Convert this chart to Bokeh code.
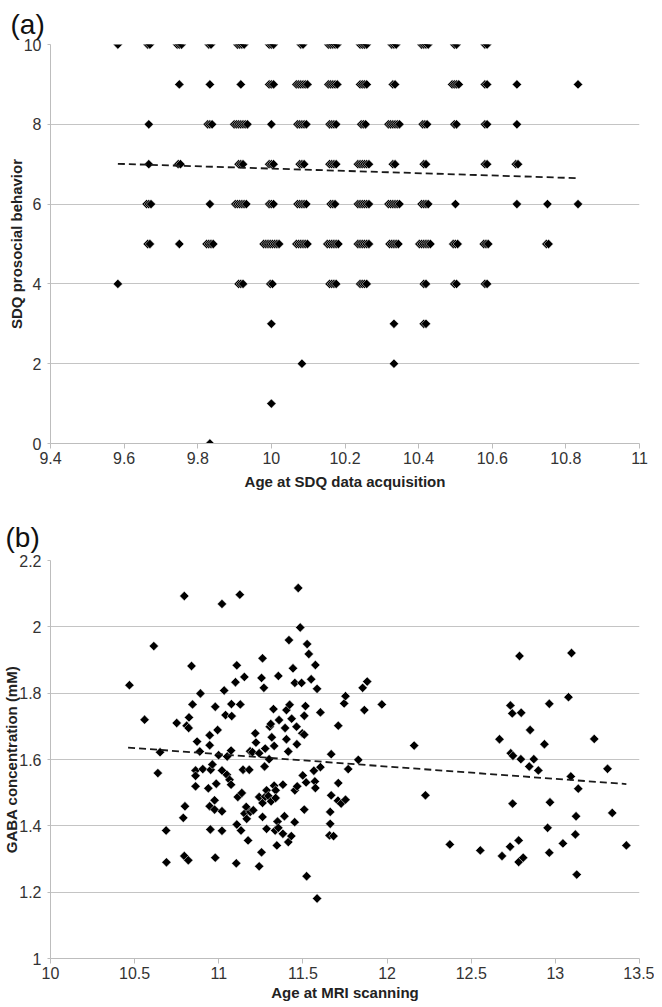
import numpy as np
from bokeh.plotting import figure
from bokeh.layouts import column
from bokeh.models import FixedTicker, NumeralTickFormatter
from bokeh.embed import file_html
from bokeh.resources import INLINE

# (a) SDQ prosocial behavior vs age: ages, one list per score
age_sdq_10 = [9.583, 9.664, 9.670, 9.744, 9.750, 9.756, 9.830, 9.836, 9.908, 9.914, 9.920, 9.926,
              9.994, 10.000, 10.006, 10.080, 10.086, 10.155, 10.161, 10.167, 10.173, 10.179,
              10.241, 10.247, 10.253, 10.259, 10.327, 10.333, 10.339, 10.408, 10.414, 10.420, 10.426,
              10.497, 10.503, 10.580, 10.586]
age_sdq_9 = [9.750, 9.833, 9.917, 9.994, 10.000, 10.006, 10.068, 10.074, 10.080, 10.086, 10.092, 10.098,
             10.155, 10.161, 10.167, 10.173, 10.179, 10.241, 10.247, 10.253, 10.259, 10.330, 10.336,
             10.491, 10.497, 10.503, 10.509, 10.580, 10.586, 10.667, 10.833]
age_sdq_8 = [9.667, 9.827, 9.833, 9.839, 9.899, 9.905, 9.911, 9.917, 9.923, 9.929, 9.935, 10.000,
             10.071, 10.077, 10.083, 10.089, 10.095, 10.158, 10.164, 10.170, 10.176, 10.244, 10.250, 10.256,
             10.318, 10.324, 10.330, 10.336, 10.342, 10.348, 10.411, 10.417, 10.423, 10.497, 10.503,
             10.580, 10.586, 10.667]
age_sdq_7 = [9.667, 9.747, 9.753, 9.911, 9.917, 9.923, 9.994, 10.000, 10.006, 10.077, 10.083, 10.089,
             10.158, 10.164, 10.170, 10.176, 10.235, 10.241, 10.247, 10.253, 10.259, 10.265,
             10.330, 10.336, 10.414, 10.420, 10.580, 10.586, 10.664, 10.670]
age_sdq_6 = [9.661, 9.667, 9.673, 9.833, 9.902, 9.908, 9.914, 9.920, 9.926, 9.932, 9.994, 10.000, 10.006,
             10.071, 10.077, 10.083, 10.089, 10.095, 10.161, 10.167, 10.173,
             10.235, 10.241, 10.247, 10.253, 10.259, 10.265, 10.318, 10.324, 10.330, 10.336, 10.342, 10.348,
             10.408, 10.414, 10.420, 10.426, 10.500, 10.667, 10.750, 10.833]
age_sdq_5 = [9.664, 9.670, 9.750, 9.824, 9.830, 9.836, 9.842,
             9.979, 9.985, 9.991, 9.997, 10.003, 10.009, 10.015, 10.021,
             10.068, 10.074, 10.080, 10.086, 10.092, 10.098, 10.152, 10.158, 10.164, 10.170, 10.176, 10.182,
             10.235, 10.241, 10.247, 10.253, 10.259, 10.265, 10.321, 10.327, 10.333, 10.339, 10.345,
             10.402, 10.408, 10.414, 10.420, 10.426, 10.432, 10.494, 10.500, 10.506,
             10.577, 10.583, 10.589, 10.747, 10.753]
age_sdq_4 = [9.583, 9.911, 9.917, 9.923, 9.997, 10.003, 10.158, 10.164, 10.170, 10.176,
             10.241, 10.247, 10.253, 10.259, 10.414, 10.420, 10.497, 10.503, 10.580, 10.586]
age_sdq_3 = [10.000, 10.333, 10.414, 10.420]
age_sdq_2 = [10.083, 10.333]
age_sdq_1 = [10.000]
age_sdq_0 = [9.833]

sdq_scores = [10, 9, 8, 7, 6, 5, 4, 3, 2, 1, 0]
sdq_age_lists = [age_sdq_10, age_sdq_9, age_sdq_8, age_sdq_7, age_sdq_6, age_sdq_5,
                 age_sdq_4, age_sdq_3, age_sdq_2, age_sdq_1, age_sdq_0]

trend_a_age = [9.583, 10.833]
trend_a_sdq = [7.01, 6.65]

xticks_a = [9.4, 9.6, 9.8, 10.0, 10.2, 10.4, 10.6, 10.8, 11.0]
yticks_a = [0, 2, 4, 6, 8, 10]

# (b) GABA concentration vs age at MRI scanning
gaba_age = [10.469, 10.559, 10.614, 10.651, 10.638, 10.795, 10.750, 10.809, 10.821, 10.823,
            10.838, 10.844, 10.871, 10.891, 10.887, 10.946, 10.946, 10.979, 10.999, 11.019,
            11.032, 11.040, 10.993, 11.075, 11.077, 11.073, 11.050, 11.107, 11.125, 11.099,
            11.152, 11.128, 11.186, 11.200, 11.217, 11.221, 11.260, 11.254, 11.268, 11.240,
            11.276, 11.272, 11.309, 11.325, 11.303, 11.315, 11.329, 11.299, 11.354, 11.358,
            11.394, 11.402, 11.421, 11.402, 11.413, 11.417, 11.441, 11.433, 11.452, 11.462,
            11.464, 11.472, 11.484, 11.492, 11.496, 11.508, 11.508, 11.515, 11.525, 11.535,
            11.549, 11.574, 11.584, 11.604,
            10.687, 10.689, 10.862, 10.862, 10.862, 10.905, 10.952, 10.962, 10.938, 10.985,
            10.946, 10.975, 10.975, 10.950, 11.019, 11.048, 11.064, 11.073, 11.019, 11.019,
            10.979, 10.789, 10.799, 10.795, 10.819, 11.144, 11.181, 11.113, 11.137, 11.107,
            11.132, 11.104, 11.163, 11.153, 11.166, 11.187, 11.205, 11.174, 11.240, 11.276,
            11.284, 11.260, 11.295, 11.311, 11.329, 11.338, 11.338, 11.381, 11.260, 11.284,
            11.335, 11.349, 11.354, 11.381, 11.390, 11.345, 11.413, 11.431, 11.254, 11.240,
            11.451, 11.452, 11.466, 11.499, 11.519, 11.508, 11.522, 11.565, 11.571, 11.574,
            11.604, 11.584,
            11.668, 11.710, 11.745, 11.753, 11.769, 11.829, 11.855, 11.882, 11.865, 11.969,
            12.161, 12.668, 12.733, 12.744, 12.787, 12.797, 12.850, 12.735, 12.748, 12.795,
            12.872, 12.845, 12.899, 12.935, 12.964, 13.078, 13.096, 13.231, 13.310, 13.092,
            11.668, 11.710, 11.662, 11.662, 11.658, 11.682, 11.708, 11.727, 11.753, 12.228,
            12.373, 12.554, 12.683, 12.731, 12.746, 12.782, 12.782, 12.809, 12.954, 12.968,
            12.964, 13.045, 13.136, 13.123, 13.119, 13.127, 13.338, 13.422]
gaba_mm = [1.824, 1.720, 1.942, 1.622, 1.559, 2.093, 1.710, 1.702, 1.695, 1.727,
           1.882, 1.766, 1.654, 1.799, 1.624, 1.673, 1.643, 1.759, 1.613, 2.069,
           1.808, 1.734, 1.689, 1.767, 1.731, 1.627, 1.609, 1.884, 2.097, 1.833,
           1.849, 1.766, 1.625, 1.622, 1.679, 1.651, 1.905, 1.846, 1.816, 1.619,
           1.633, 1.579, 1.707, 1.752, 1.699, 1.667, 1.641, 1.601, 1.852, 1.719,
           1.695, 1.749, 1.765, 1.661, 1.624, 1.960, 1.875, 1.723, 1.831, 1.699,
           1.646, 2.117, 1.998, 1.831, 1.679, 1.675, 1.732, 1.761, 1.948, 1.918,
           1.842, 1.885, 1.813, 1.742,
           1.386, 1.290, 1.567, 1.551, 1.519, 1.571, 1.569, 1.585, 1.513, 1.527,
           1.459, 1.477, 1.449, 1.389, 1.567, 1.554, 1.539, 1.524, 1.444, 1.385,
           1.304, 1.424, 1.459, 1.309, 1.296, 1.569, 1.569, 1.487, 1.499, 1.404,
           1.386, 1.287, 1.457, 1.437, 1.421, 1.442, 1.447, 1.356, 1.487, 1.488,
           1.507, 1.469, 1.490, 1.474, 1.521, 1.507, 1.484, 1.524, 1.427, 1.391,
           1.386, 1.413, 1.394, 1.376, 1.429, 1.341, 1.351, 1.369, 1.320, 1.278,
           1.411, 1.507, 1.519, 1.552, 1.531, 1.449, 1.248, 1.566, 1.534, 1.514,
           1.577, 1.181,
           1.616, 1.702, 1.769, 1.791, 1.571, 1.599, 1.816, 1.835, 1.749, 1.766,
           1.642, 1.661, 1.763, 1.739, 1.912, 1.741, 1.689, 1.619, 1.611, 1.601,
           1.601, 1.579, 1.567, 1.646, 1.768, 1.788, 1.921, 1.662, 1.572, 1.549,
           1.492, 1.529, 1.442, 1.406, 1.371, 1.369, 1.476, 1.467, 1.479, 1.492,
           1.344, 1.326, 1.309, 1.337, 1.467, 1.356, 1.291, 1.304, 1.394, 1.471,
           1.319, 1.347, 1.512, 1.429, 1.374, 1.253, 1.439, 1.341]

trend_b_age = [10.461, 13.422]
trend_b_mm = [1.636, 1.526]

xticks_b = [10, 10.5, 11, 11.5, 12, 12.5, 13, 13.5]
yticks_b = [1, 1.2, 1.4, 1.6, 1.8, 2, 2.2]

FONT = "Liberation Sans"
W = 654


def panel(height, top, bottom, left, right, xr, yr, xticks, yticks, tag, tag_standoff,
          xlabel, ylabel, xlab_standoff):
    p = figure(width=W, height=height, x_range=xr, y_range=yr,
               output_backend="svg", toolbar_location=None,
               min_border_top=top, min_border_bottom=bottom,
               min_border_left=left, min_border_right=right)
    p.outline_line_color = None
    p.background_fill_color = "white"

    p.title.text = tag
    p.title.text_font = FONT
    p.title.text_font_size = "28px"
    p.title.text_font_style = "normal"
    p.title.text_color = "#111111"
    p.title.align = "left"
    p.title.offset = -left
    p.title.standoff = tag_standoff

    p.xgrid.visible = False
    p.ygrid.grid_line_color = "#c4c4c4"
    p.xaxis.ticker = FixedTicker(ticks=xticks)
    p.yaxis.ticker = FixedTicker(ticks=yticks)
    for ax in (p.xaxis[0], p.yaxis[0]):
        ax.axis_line_color = "#bdbdbd"
        ax.major_tick_line_color = "#bdbdbd"
        ax.minor_tick_line_color = None
        ax.major_tick_in = 0
        ax.major_label_text_font = FONT
        ax.major_label_text_font_size = "16px"
        ax.major_label_text_color = "#333333"
        ax.formatter = NumeralTickFormatter(format="0.[0]")
        ax.axis_label_text_font = FONT
        ax.axis_label_text_font_size = "15px"
        ax.axis_label_text_font_style = "bold"
        ax.axis_label_text_color = "#222222"
    p.xaxis.major_tick_out = 5
    p.yaxis.major_tick_out = 3
    p.xaxis.major_label_standoff = 3
    p.yaxis.major_label_standoff = 6
    p.xaxis.axis_label = xlabel
    p.yaxis.axis_label = ylabel
    p.xaxis.axis_label_standoff = xlab_standoff
    p.yaxis.axis_label_standoff = -4
    return p


pa = panel(500, 44, 57, 40, 9, (9.4, 11), (0, 10), xticks_a, yticks_a, "(a)", 10,
           "Age at SDQ data acquisition", "SDQ prosocial behavior", 6)
sdq_x = [a for ages in sdq_age_lists for a in ages]
sdq_y = [s for s, ages in zip(sdq_scores, sdq_age_lists) for _ in ages]
pa.scatter(sdq_x, sdq_y, marker="square", angle=np.pi / 4, size=6.6,
           fill_color="black", line_color="white", line_width=0.5)
pa.line(trend_a_age, trend_a_sdq, line_color="#1a1a1a", line_width=1.8, line_dash="7 4")

pb = panel(503, 60, 44, 45, 15, (10, 13.5), (1, 2.2), xticks_b, yticks_b, "(b)", 15,
           "Age at MRI scanning", "GABA concentration (mM)", 2)
order = np.argsort(gaba_age)
pb.scatter(np.array(gaba_age)[order], np.array(gaba_mm)[order], marker="square",
           angle=np.pi / 4, size=6.6, fill_color="black", line_color="white", line_width=0.5)
pb.line(trend_b_age, trend_b_mm, line_color="#1a1a1a", line_width=1.8, line_dash="7 4")

layout = column(pa, pb, spacing=0)
open("out.html", "w").write(file_html(layout, INLINE))
